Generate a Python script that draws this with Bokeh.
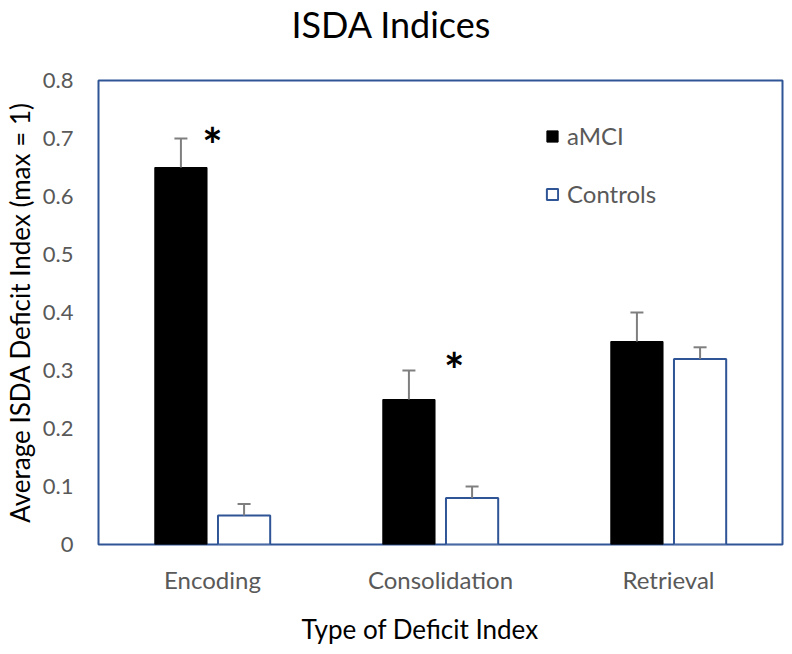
from bokeh.plotting import figure
from bokeh.models import (ColumnDataSource, Whisker, TeeHead, FixedTicker, Title,
                          Range1d)
from bokeh.core.properties import value
from bokeh.embed import file_html
from bokeh.resources import INLINE

# ---- data ----
categories = ["Encoding", "Consolidation", "Retrieval"]
amci_values = [0.65, 0.25, 0.35]
amci_errors = [0.05, 0.05, 0.05]
control_values = [0.05, 0.08, 0.32]
control_errors = [0.02, 0.02, 0.02]
y_tick_labels = ["0", "0.1", "0.2", "0.3", "0.4", "0.5", "0.6", "0.7", "0.8"]
sig_categories = ["Encoding", "Consolidation"]
sig_heights = [0.706, 0.317]

FONT = "Lato"
GREY_TEXT = "#595959"
BLUE = "#2f5597"
ERR = "#7f7f7f"

centers = [i + 0.5 for i in range(len(categories))]
dodge = 0.1385
bar_w = 0.229

amci_src = ColumnDataSource(dict(
    x=[c - dodge for c in centers], top=amci_values,
    upper=[v + e for v, e in zip(amci_values, amci_errors)]))
ctrl_src = ColumnDataSource(dict(
    x=[c + dodge for c in centers], top=control_values,
    upper=[v + e for v, e in zip(control_values, control_errors)]))

p = figure(width=784, height=646, output_backend="svg", toolbar_location=None,
           x_range=Range1d(0, len(categories)), y_range=Range1d(0, 0.8),
           min_border_left=97, min_border_right=2, min_border_top=80,
           min_border_bottom=99)
p.title = None

p.vbar(x="x", top="top", width=bar_w, source=amci_src, fill_color="black",
       line_color="black", legend_label="aMCI")
p.vbar(x="x", top="top", width=bar_w, source=ctrl_src, fill_color="white",
       line_color=BLUE, line_width=2, legend_label="Controls")

for src in (amci_src, ctrl_src):
    w = Whisker(source=src, base="x", lower="top", upper="upper",
                line_color=ERR, line_width=2, lower_head=None,
                upper_head=TeeHead(size=13, line_color=ERR, line_width=2),
                level="glyph")
    p.add_layout(w)

star_x = [categories.index(c) + 0.5 + (0.0 if i == 0 else 0.06) for i, c in enumerate(sig_categories)]
p.text(x=star_x, y=sig_heights, text=["*"] * len(sig_categories),
       text_font=value(FONT), text_font_size="48px", text_font_style="bold",
       text_align="center", text_baseline="middle", text_color="black",
       y_offset=9)

# axes
p.xgrid.visible = False
p.ygrid.visible = False
p.outline_line_color = BLUE
p.outline_line_width = 2

p.xaxis.ticker = FixedTicker(ticks=centers)
p.xaxis.major_label_overrides = {c: n for c, n in zip(centers, categories)}
p.yaxis.ticker = FixedTicker(ticks=[float(s) for s in y_tick_labels])
p.yaxis.major_label_overrides = {float(s): s for s in y_tick_labels}
for ax in (p.xaxis, p.yaxis):
    ax.axis_line_color = None
    ax.major_tick_line_color = None
    ax.minor_tick_line_color = None
    ax.major_tick_out = 0
    ax.major_tick_in = 0
    ax.minor_tick_out = 0
    ax.minor_tick_in = 0
    ax.major_label_text_font = FONT
    ax.major_label_text_color = GREY_TEXT
p.xaxis.major_label_text_font_size = "24px"
p.yaxis.major_label_text_font_size = "22px"
p.xaxis.major_label_standoff = 20
p.yaxis.major_label_standoff = 25

p.yaxis.axis_label = "Average ISDA Deficit Index (max = 1)"
p.yaxis.axis_label_text_font = FONT
p.yaxis.axis_label_text_font_size = "26px"
p.yaxis.axis_label_text_font_style = "normal"
p.yaxis.axis_label_text_color = "black"
p.yaxis.axis_label_standoff = 4

# titles (spacer first = closest to the frame)
p.add_layout(Title(text=" ", text_font_size="10px", standoff=20), "above")
p.add_layout(Title(text="ISDA Indices", align="left", offset=193, vertical_align="top",
                   text_font=FONT, text_font_size="36px", text_font_style="normal",
                   text_color="black", standoff=0), "above")
p.add_layout(Title(text=" ", text_font_size="8px", standoff=5), "below")
p.add_layout(Title(text="Type of Deficit Index", align="left", offset=203, vertical_align="top",
                   text_font=FONT, text_font_size="26px", text_font_style="normal",
                   text_color="black", standoff=0), "below")

leg = p.legend[0]
leg.location = (447, 336)
leg.label_text_font = FONT
leg.label_text_font_size = "24px"
leg.label_text_color = GREY_TEXT
leg.glyph_width = 14
leg.glyph_height = 14
leg.label_standoff = 8
leg.spacing = 29
leg.padding = 0
leg.margin = 0
leg.border_line_alpha = 0
leg.background_fill_alpha = 0

open("out.html", "w").write(file_html(p, INLINE))
